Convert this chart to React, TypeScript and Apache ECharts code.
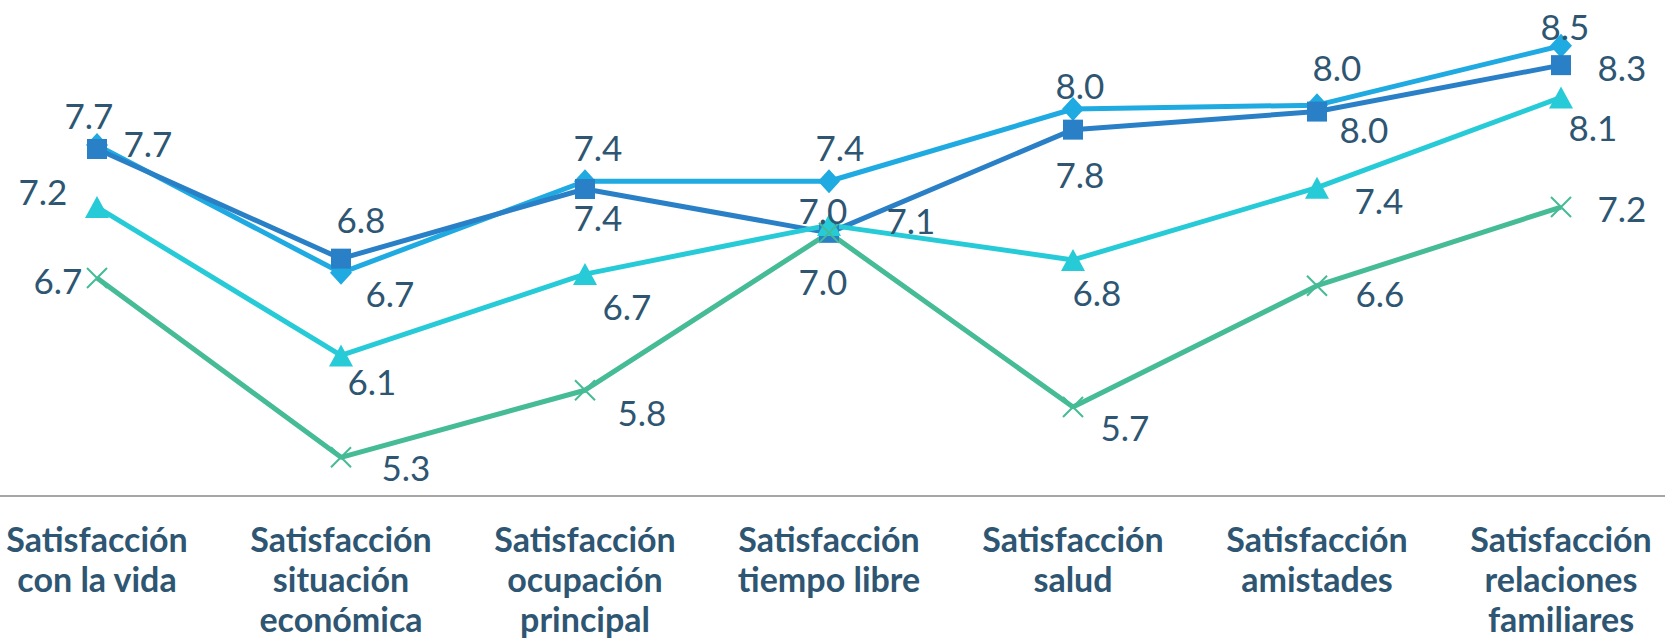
import React, { useEffect, useRef } from "react";
import * as echarts from "echarts";

const categories = [
  "Satisfacción\ncon la vida",
  "Satisfacción\nsituación\neconómica",
  "Satisfacción\nocupación\nprincipal",
  "Satisfacción\ntiempo libre",
  "Satisfacción\nsalud",
  "Satisfacción\namistades",
  "Satisfacción\nrelaciones\nfamiliares",
];

const seriesNames = ["Serie 1", "Serie 2", "Serie 3", "Serie 4"];

const diamondValues = [7.72, 6.73, 7.44, 7.44, 8.0, 8.03, 8.49];
const squareValues = [7.69, 6.84, 7.38, 7.04, 7.84, 7.98, 8.34];
const triangleValues = [7.24, 6.09, 6.72, 7.1, 6.83, 7.39, 8.09];
const crossValues = [6.69, 5.3, 5.82, 7.04, 5.69, 6.63, 7.24];

// label offsets (styling), relative to each point
const diamondLabelOffsets = [[-8, -30], [49, 20], [13, -34], [11, -34], [7, -24], [20, -38], [4, -20]];
const squareLabelOffsets = [[51, -6], [20, -40], [13, 28], [-6, 48], [7, 44], [47, 17], [61, 2]];
const triangleLabelOffsets = [[-54, -16], [31, 26], [42, 32], [82, -5], [24, 32], [62, 12], [32, 30]];
const crossLabelOffsets = [[-39, 2], [65, 10], [57, 22], [-6, -23], [52, 20], [63, 7], [61, 1]];

const TEXT_COLOR = "#2E5672";

function makeSeries(
  name: string,
  values: number[],
  offsets: number[][],
  color: string,
  symbol: string,
  symbolSize: number | number[],
  isCross = false
) {
  return {
    name,
    type: "line",
    data: values.map((v, i) => ({
      value: v,
      label: { offset: offsets[i] },
    })),
    symbol,
    symbolSize,
    symbolKeepAspect: false,
    showAllSymbol: true,
    clip: false,
    lineStyle: { color, width: 5 },
    itemStyle: isCross
      ? { color, borderColor: color, borderWidth: 2 }
      : { color, borderWidth: 0 },
    label: {
      show: true,
      position: "inside",
      align: "center",
      verticalAlign: "middle",
      fontFamily: "Lato",
      fontSize: 35,
      color: TEXT_COLOR,
      formatter: (p: any) => Number(p.value).toFixed(1),
    },
    emphasis: { disabled: true },
  };
}

export default function App() {
  const ref = useRef<HTMLDivElement>(null);

  useEffect(() => {
    if (!ref.current) return;
    const chart = echarts.init(ref.current, undefined, { renderer: "svg" });
    chart.setOption({
      animation: false,
      backgroundColor: "#ffffff",
      grid: {
        left: -25,
        right: -18,
        top: 44.5,
        bottom: 144,
        containLabel: false,
        outerBoundsMode: "none",
      },
      xAxis: {
        type: "category",
        data: categories,
        boundaryGap: true,
        axisTick: { show: false },
        axisLine: { show: true, lineStyle: { color: "#A6A6A6", width: 2 } },
        axisLabel: {
          interval: 0,
          margin: 22,
          fontFamily: "Lato",
          fontWeight: "bold",
          fontSize: 34,
          lineHeight: 40,
          color: TEXT_COLOR,
          align: "center",
          hideOverlap: false,
        },
      },
      yAxis: {
        type: "value",
        min: 5,
        max: 8.5,
        show: false,
        splitLine: { show: false },
      },
      series: [
        makeSeries(seriesNames[0], diamondValues, diamondLabelOffsets, "#1FAAE1", "diamond", [22, 24]),
        makeSeries(seriesNames[1], squareValues, squareLabelOffsets, "#2A80C6", "rect", 20),
        makeSeries(seriesNames[2], triangleValues, triangleLabelOffsets, "#27CBD7", "triangle", [24, 22]),
        makeSeries(
          seriesNames[3],
          crossValues,
          crossLabelOffsets,
          "#45BB96",
          "path://M0,0L20,20M20,0L0,20",
          20,
          true
        ),
      ],
    });
    return () => chart.dispose();
  }, []);

  return (
    <div
      ref={ref}
      style={{ position: "absolute", left: 0, top: 0, width: 1665, height: 640 }}
    />
  );
}
